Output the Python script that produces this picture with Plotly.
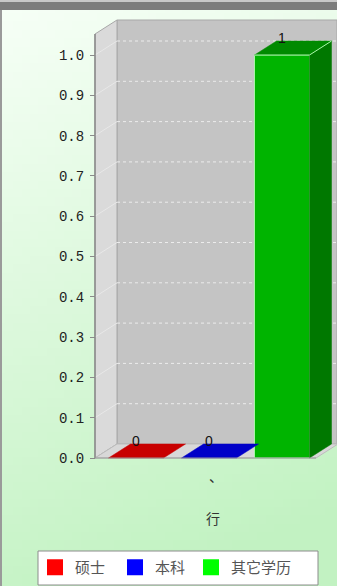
import base64
import struct
import zlib

import plotly.graph_objects as go

# ---- data -------------------------------------------------------------
categories = ["硕士", "本科", "其它学历"]
values = [0, 0, 1]
value_labels = ["0", "0", "1"]

legend_colors = ["#ff0000", "#0000ff", "#00ff00"]
front_colors = ["#b40000", "#0000b4", "#00b400"]
top_colors = ["#c80000", "#0000c8", "#008a00"]
side_colors = ["#800000", "#000080", "#007800"]
edge_colors = ["rgba(0,0,0,0)", "rgba(0,0,0,0)", "#a8f5a8"]
legend_widths = [35, 31, 72]

y_ticks = [0.0, 0.1, 0.2, 0.3, 0.4, 0.5, 0.6, 0.7, 0.8, 0.9, 1.0]
y_tick_labels = ["0.0", "0.1", "0.2", "0.3", "0.4", "0.5",
                 "0.6", "0.7", "0.8", "0.9", "1.0"]
x_tick_labels = ["、"]
x_title = "行"

# ---- geometry of the pseudo-3D box (pixel scale of the axes) ----------
W, H = 337, 586
PX_X, X0_PX = 73.0, 136.0       # px per category, px of first category
PX_Y, Y0_PX = 403.0, 458.0      # px per unit, px of y = 0
x_range = [(0 - X0_PX) / PX_X, (W - X0_PX) / PX_X]
y_range = [(Y0_PX - H) / PX_Y, Y0_PX / PX_Y]
DX = 22 / PX_X                  # depth offset, x units
DY = 14 / PX_Y                  # depth offset, y units
AXIS_X = (95 - X0_PX) / PX_X
FLOOR_END = (316 - X0_PX) / PX_X
WALL_TOP = (Y0_PX - 34) / PX_Y
BAR_W = 55 / PX_X
LABEL_DROP = 5 / PX_Y
xs = list(range(len(categories)))


def gradient_png(w, h, c0, c1):
    """Small PNG with a diagonal colour blend, stretched over the page."""
    rows = []
    for j in range(h):
        row = bytearray(b"\x00")
        for i in range(w):
            t = min(1.0, 0.2 * i / (w - 1) + 0.9 * j / (h - 1))
            row += bytes(int(round(a + (b - a) * t)) for a, b in zip(c0, c1))
        rows.append(bytes(row))
    raw = b"".join(rows)

    def chunk(tag, data):
        return (struct.pack(">I", len(data)) + tag + data
                + struct.pack(">I", zlib.crc32(tag + data) & 0xFFFFFFFF))

    png = (b"\x89PNG\r\n\x1a\n"
           + chunk(b"IHDR", struct.pack(">IIBBBBB", w, h, 8, 2, 0, 0, 0))
           + chunk(b"IDAT", zlib.compress(raw, 9))
           + chunk(b"IEND", b""))
    return "data:image/png;base64," + base64.b64encode(png).decode()


shapes = []
# back wall, side wall, floor
shapes.append(dict(type="rect", xref="x", yref="y", layer="below",
                   x0=AXIS_X + DX, x1=x_range[1], y0=DY, y1=WALL_TOP + DY,
                   fillcolor="#c4c4c4", line=dict(color="#a8a8a8", width=1)))
shapes.append(dict(type="path", xref="x", yref="y", layer="below",
                   path=(f"M{AXIS_X},0 L{AXIS_X},{WALL_TOP} "
                         f"L{AXIS_X + DX},{WALL_TOP + DY} L{AXIS_X + DX},{DY} Z"),
                   fillcolor="#dadada", line=dict(color="#a8a8a8", width=1)))
shapes.append(dict(type="path", xref="x", yref="y", layer="below",
                   path=(f"M{AXIS_X},0 L{FLOOR_END},0 "
                         f"L{FLOOR_END + DX},{DY} L{AXIS_X + DX},{DY} Z"),
                   fillcolor="#d8d8d8", line=dict(color="#bcbcbc", width=1)))
# dashed gridlines on the walls
for v in y_ticks[1:]:
    shapes.append(dict(type="line", xref="x", yref="y", layer="below",
                       x0=AXIS_X + DX, x1=x_range[1], y0=v + DY, y1=v + DY,
                       line=dict(color="#ececec", width=1, dash="3px,3px")))
    shapes.append(dict(type="line", xref="x", yref="y", layer="below",
                       x0=AXIS_X, x1=AXIS_X + DX, y0=v, y1=v + DY,
                       line=dict(color="#e8e8e8", width=1)))
# value axis line and front floor edge
shapes.append(dict(type="line", xref="x", yref="y",
                   x0=AXIS_X, x1=AXIS_X, y0=0, y1=WALL_TOP,
                   line=dict(color="#8a8a8a", width=1.5)))
shapes.append(dict(type="line", xref="x", yref="y",
                   x0=AXIS_X, x1=FLOOR_END, y0=0, y1=0,
                   line=dict(color="#9a9a9a", width=1)))
# window frame
shapes.append(dict(type="rect", xref="paper", yref="paper", layer="above",
                   x0=0, x1=1, y0=1 - 2 / H, y1=1,
                   fillcolor="#c8c8c8", line=dict(width=0)))
shapes.append(dict(type="rect", xref="paper", yref="paper", layer="above",
                   x0=0, x1=1, y0=1 - 10 / H, y1=1 - 2 / H,
                   fillcolor="#7c7c7c", line=dict(width=0)))
shapes.append(dict(type="rect", xref="paper", yref="paper", layer="above",
                   x0=0, x1=2 / W, y0=0, y1=1 - 10 / H,
                   fillcolor="#9a9a9a", line=dict(width=0)))
# legend frame
shapes.append(dict(type="rect", xref="paper", yref="paper", layer="above",
                   x0=38 / W, x1=318 / W, y0=1 - 585 / H, y1=1 - 551 / H,
                   fillcolor="white", line=dict(color="#8c8c8c", width=1)))

fig = go.Figure()

# front faces
fig.add_trace(go.Bar(
    x=xs, y=values, width=BAR_W, showlegend=False, hoverinfo="skip",
    marker=dict(color=front_colors, line=dict(color=edge_colors, width=1)),
))

# side and top faces
for i, v in enumerate(values):
    xl, xr = xs[i] - BAR_W / 2, xs[i] + BAR_W / 2
    if v > 0:
        fig.add_trace(go.Scatter(
            x=[xr, xr, xr + DX, xr + DX, xr], y=[0, v, v + DY, DY, 0],
            mode="lines", fill="toself", fillcolor=side_colors[i],
            line=dict(color=side_colors[i], width=0.5),
            showlegend=False, hoverinfo="skip"))
    fig.add_trace(go.Scatter(
        x=[xl, xr, xr + DX, xl + DX, xl], y=[v, v, v + DY, v + DY, v],
        mode="lines", fill="toself", fillcolor=top_colors[i],
        line=dict(color=top_colors[i], width=0.5),
        showlegend=False, hoverinfo="skip"))
    if v > 0:
        fig.add_trace(go.Scatter(
            x=[xl, xr, xr + DX], y=[v, v, v + DY], mode="lines",
            line=dict(color=edge_colors[i], width=1),
            showlegend=False, hoverinfo="skip"))

# value labels
fig.add_trace(go.Scatter(
    x=xs, y=[v + DY - LABEL_DROP for v in values], mode="text",
    text=value_labels, textposition="top center",
    textfont=dict(family="Liberation Sans", size=14, color="#111111"),
    showlegend=False, hoverinfo="skip"))

# legend entries
for name, col, lw in zip(categories, legend_colors, legend_widths):
    fig.add_trace(go.Scatter(
        x=[None], y=[None], mode="markers", name=name, legendwidth=lw,
        marker=dict(symbol="square", size=16, color=col)))

fig.update_layout(
    width=W, height=H,
    margin=dict(l=0, r=0, t=0, b=0),
    paper_bgcolor="white",
    plot_bgcolor="rgba(0,0,0,0)",
    shapes=shapes,
    images=[dict(source=gradient_png(40, 70, (247, 255, 247), (194, 242, 194)),
                 xref="paper", yref="paper", x=0, y=1, sizex=1, sizey=1,
                 sizing="stretch", layer="below", xanchor="left", yanchor="top")],
    annotations=[dict(text=x_title, xref="x", yref="y",
                      x=(213 - X0_PX) / PX_X, y=(Y0_PX - 518) / PX_Y,
                      showarrow=False,
                      font=dict(family="Noto Sans CJK SC", size=14,
                                color="#333333"))],
    xaxis=dict(range=x_range, anchor="free", position=(H - Y0_PX) / H,
               showgrid=False, zeroline=False, showline=False,
               tickmode="array", tickvals=[1], ticktext=x_tick_labels,
               ticks="", ticklabelstandoff=9, ticklabelshift=7,
               tickfont=dict(family="Noto Sans CJK SC", size=14,
                             color="#333333")),
    yaxis=dict(range=y_range, anchor="free", position=95 / W,
               showgrid=False, zeroline=False, showline=False,
               tickmode="array", tickvals=y_ticks, ticktext=y_tick_labels,
               ticks="outside", ticklen=5, tickcolor="#8a8a8a", tickwidth=1,
               ticklabelstandoff=3,
               tickfont=dict(family="Liberation Mono", size=14,
                             color="#222222")),
    showlegend=True,
    legend=dict(orientation="h", x=35 / W, y=1 - 551 / H,
                xanchor="left", yanchor="top",
                bgcolor="rgba(0,0,0,0)", borderwidth=0,
                font=dict(family="Noto Sans CJK SC", size=15, color="#555555"),
                itemclick=False, itemdoubleclick=False),
)

fig.write_html("out.html")
